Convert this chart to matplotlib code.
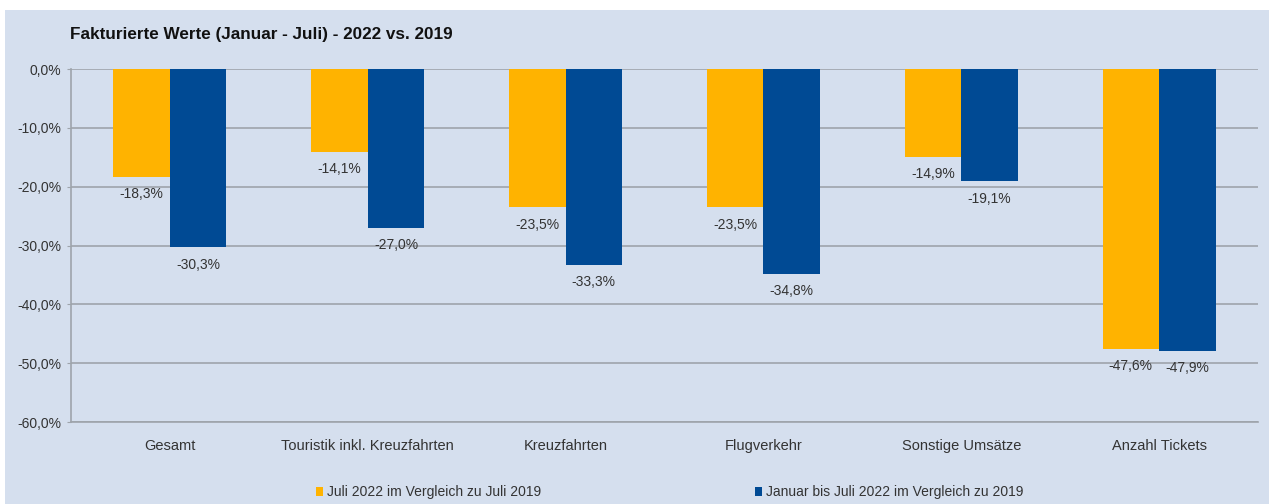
import numpy as np
import matplotlib.pyplot as plt

# data
categories = [
    "Gesamt",
    "Touristik inkl. Kreuzfahrten",
    "Kreuzfahrten",
    "Flugverkehr",
    "Sonstige Umsätze",
    "Anzahl Tickets",
]
juli = [-18.3, -14.1, -23.5, -23.5, -14.9, -47.6]
jan_juli = [-30.3, -27.0, -33.3, -34.8, -19.1, -47.9]

series_names = [
    "Juli 2022 im Vergleich zu Juli 2019",
    "Januar bis Juli 2022 im Vergleich zu 2019",
]
title = "Fakturierte Werte (Januar - Juli) - 2022 vs. 2019"

BG = "#d5dfee"
ORANGE = "#ffb300"
BLUE = "#004a94"
TEXT = "#333333"
GRID = "#9ea4ab"

plt.rcParams["font.family"] = ["Liberation Sans", "DejaVu Sans"]


def fmt(v):
    return f"{v:.1f}%".replace(".", ",")


fig = plt.figure(figsize=(12.69, 5.04), dpi=100, facecolor="white")
# light blue panel behind everything
fig.patches.append(plt.Rectangle((0.004, 0.0), 0.996, 0.98, transform=fig.transFigure,
                                 facecolor=BG, edgecolor="none", zorder=-10))
ax = fig.add_axes([71 / 1269, 1 - 422 / 504, (1258 - 71) / 1269, (422 - 69) / 504])
ax.set_facecolor(BG)

x = np.arange(len(categories))
w = 0.286
b1 = ax.bar(x - w / 2, juli, w, color=ORANGE, label=series_names[0], zorder=3)
b2 = ax.bar(x + w / 2, jan_juli, w, color=BLUE, label=series_names[1], zorder=3)

for bars, vals in [(b1, juli), (b2, jan_juli)]:
    for rect, v in zip(bars, vals):
        ax.annotate(fmt(v), (rect.get_x() + rect.get_width() / 2, v), xytext=(0, -12.5),
                    textcoords="offset points", ha="center", va="center",
                    fontsize=10, color=TEXT, zorder=4)

ax.set_xlim(-0.5, len(categories) - 0.5)
ax.set_ylim(-60, 0)
ax.set_yticks(np.arange(-60, 1, 10))
ax.set_yticklabels([fmt(v) for v in np.arange(-60, 1, 10)], fontsize=10, color=TEXT)
ax.set_xticks(x)
ax.set_xticklabels(categories, fontsize=10.5, color=TEXT)
ax.tick_params(axis="x", length=0, pad=12)
ax.tick_params(axis="y", length=3, color=GRID, pad=4)
ax.yaxis.grid(True, color=GRID, lw=1.2, zorder=0)
for s in ["top", "right"]:
    ax.spines[s].set_visible(False)
for s in ["left", "bottom"]:
    ax.spines[s].set_color(GRID)
    ax.spines[s].set_linewidth(1.2)

fig.text(70 / 1269, 1 - 35 / 504, title, fontsize=12.3, fontweight="bold",
         color="#111111", va="center", ha="left")

leg = fig.legend(handles=[b1, b2], labels=series_names, loc="center",
                 bbox_to_anchor=(0.5275, 1 - 492 / 504), ncol=2, frameon=False,
                 fontsize=10, handlelength=0.5, handleheight=0.6, handletextpad=0.3,
                 columnspacing=15.4)
for t in leg.get_texts():
    t.set_color(TEXT)

fig.savefig("out.png", dpi=100, facecolor=fig.get_facecolor())
